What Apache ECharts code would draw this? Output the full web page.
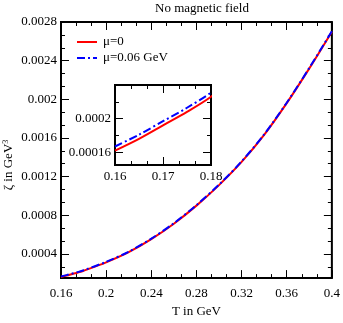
<!DOCTYPE html>
<html><head><meta charset="utf-8">
<script src="https://cdn.jsdelivr.net/npm/echarts@6/dist/echarts.min.js"></script>
<style>html,body{margin:0;padding:0;background:#fff}#c{width:343px;height:323px}</style>
</head><body><div id="c"></div>
<script>
// data
var temps = [0.16, 0.165, 0.17, 0.175, 0.18, 0.20, 0.22, 0.24, 0.26, 0.28, 0.30, 0.32, 0.34, 0.36, 0.38, 0.40];
var zetaMu0 = [0.000162, 0.000176, 0.000192, 0.000208, 0.000226, 0.000313, 0.000418, 0.000553, 0.000713, 0.000900, 0.001112, 0.001352, 0.001632, 0.001960, 0.002320, 0.002700];
var zetaMu006 = [0.000167, 0.000181, 0.000197, 0.000213, 0.000231, 0.000318, 0.000423, 0.000558, 0.000718, 0.000905, 0.001117, 0.001357, 0.001637, 0.001965, 0.002325, 0.002705];
var seriesNames = ['μ=0', 'μ=0.06 GeV'];
var mainXTicks = [0.16, 0.2, 0.24, 0.28, 0.32, 0.36, 0.4];
var mainYTicks = [0.0004, 0.0008, 0.0012, 0.0016, 0.002, 0.0024, 0.0028];
var insetXTicks = [0.16, 0.17, 0.18];
var insetYTicks = [0.00016, 0.0002, 0.00024];
var insetYLabels = [0.00016, 0.0002];

var FONT = "'Liberation Serif','DejaVu Serif',serif";
var DASHDOT = [8, 3, 2, 3];

function minors(major, n, min, max) {
  var step = major[1] - major[0], out = [];
  var start = major[0] - step;
  for (var k = 0; k < major.length + 1; k++) {
    var b = start + k * step;
    for (var j = 1; j < n; j++) {
      var v = b + step * j / n;
      if (v > min + 1e-12 && v < max - 1e-12) out.push(+v.toPrecision(10));
    }
  }
  return out;
}
function pair(v) { return temps.map(function (t, i) { return [t, v[i]]; }); }

var xAxes = [], yAxes = [];
function addAxes(list, grid, posA, posB, min, max, major, minor, labels, labelMargin, extra) {
  var base = function (pos, ticks, len, showLabel) {
    return {
      type: 'value', gridIndex: grid, position: pos, min: min, max: max,
      axisLine: { show: false }, splitLine: { show: false },
      axisTick: { show: true, inside: true, length: len, customValues: ticks, lineStyle: { color: '#000', width: 1 } },
      axisLabel: { show: showLabel, customValues: labels, margin: labelMargin, color: '#000', fontFamily: FONT, fontSize: 13,
        formatter: function (v) { return String(+v.toPrecision(6)); } }
    };
  };
  var m = base(posA, major, 8, true);
  if (extra) for (var k in extra) m[k] = extra[k];
  list.push(m);
  list.push(base(posA, minor, 4, false));
  list.push(base(posB, major, 8, false));
  list.push(base(posB, minor, 4, false));
}

var mainXMinor = minors(mainXTicks, 3, 0.16, 0.4);
var mainYMinor = minors(mainYTicks, 3, 0.00015, 0.0028);
var inXMinor = minors(insetXTicks, 3, 0.16, 0.18);
var inYMinor = minors(insetYTicks, 2, 0.000145, 0.00024);

addAxes(xAxes, 0, 'bottom', 'top', 0.16, 0.4, mainXTicks, mainXMinor, mainXTicks, 9,
  { name: 'T in GeV', nameLocation: 'middle', nameGap: 21, nameTextStyle: { color: '#000', fontFamily: FONT, fontSize: 13 } });
addAxes(yAxes, 0, 'left', 'right', 0.00015, 0.0028, mainYTicks, mainYMinor, mainYTicks, 4);
addAxes(xAxes, 1, 'bottom', 'top', 0.16, 0.18, insetXTicks, inXMinor, insetXTicks, 5);
addAxes(yAxes, 1, 'left', 'right', 0.000145, 0.00024, insetYTicks, inYMinor, insetYLabels, 4);

var chart = echarts.init(document.getElementById('c'), null, { renderer: 'canvas' });
chart.setOption({
  animation: false,
  backgroundColor: '#fff',
  textStyle: { fontFamily: FONT },
  title: { text: 'No magnetic field', left: 197, top: -3, textAlign: 'center',
    textStyle: { fontFamily: FONT, fontSize: 13, fontWeight: 'normal', color: '#000' } },
  grid: [
    { left: 61, top: 22, width: 272, height: 267, show: true, borderColor: '#000', borderWidth: 2, backgroundColor: 'transparent', containLabel: false },
    { left: 115, top: 85, width: 96, height: 80, show: true, borderColor: '#000', borderWidth: 2, backgroundColor: '#fff', containLabel: false }
  ],
  xAxis: xAxes,
  yAxis: yAxes,
  graphic: [
    { type: 'text', x: 9, y: 165, rotation: Math.PI / 2,
      style: { text: 'ζ in GeV{s|3}', align: 'center', verticalAlign: 'middle', fill: '#000',
        font: '13px ' + FONT, rich: { s: { fontSize: 8, verticalAlign: 'top', padding: [0, 0, 7, 0], fontFamily: FONT } } } },
    { type: 'line', shape: { x1: 77, y1: 42, x2: 97, y2: 42 }, style: { stroke: '#ff0000', lineWidth: 2 } },
    { type: 'text', x: 103, y: 42, style: { text: seriesNames[0], font: '13px ' + FONT, fill: '#000', verticalAlign: 'middle' } },
    { type: 'line', shape: { x1: 77, y1: 58, x2: 97, y2: 58 }, style: { stroke: '#0000ff', lineWidth: 2, lineDash: DASHDOT } },
    { type: 'text', x: 103, y: 58, style: { text: seriesNames[1], font: '13px ' + FONT, fill: '#000', verticalAlign: 'middle' } }
  ],
  series: [
    { name: seriesNames[0], type: 'line', xAxisIndex: 0, yAxisIndex: 0, data: pair(zetaMu0), smooth: 0.3, symbol: 'none',
      lineStyle: { color: '#ff0000', width: 2 }, z: 2 },
    { name: seriesNames[1], type: 'line', xAxisIndex: 0, yAxisIndex: 0, data: pair(zetaMu006), smooth: 0.3, symbol: 'none',
      lineStyle: { color: '#0000ff', width: 2, type: DASHDOT }, z: 3 },
    { name: seriesNames[0], type: 'line', xAxisIndex: 4, yAxisIndex: 4, data: pair(zetaMu0), smooth: 0.3, symbol: 'none', clip: true,
      lineStyle: { color: '#ff0000', width: 2 }, z: 4 },
    { name: seriesNames[1], type: 'line', xAxisIndex: 4, yAxisIndex: 4, data: pair(zetaMu006), smooth: 0.3, symbol: 'none', clip: true,
      lineStyle: { color: '#0000ff', width: 2, type: DASHDOT }, z: 5 }
  ]
});
</script></body></html>
